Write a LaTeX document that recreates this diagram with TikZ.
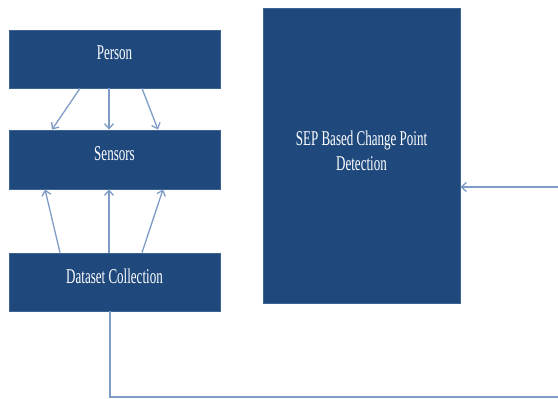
\documentclass[tikz,border=0pt]{standalone}
\usepackage{fontspec}
\setmainfont[FakeStretch=0.62]{Liberation Serif}
\usepackage{tikz}
\usetikzlibrary{arrows, arrows.meta}
\usetikzlibrary{positioning, calc}
\definecolor{boxblue}{HTML}{1F497D}
\definecolor{boxedge}{HTML}{3F6391}
\definecolor{linkblue}{HTML}{7E9CC6}

\begin{document}
\begin{tikzpicture}[x=1pt, y=1pt,
    block/.style={rectangle, draw=boxedge, fill=boxblue, line width=0.8pt,
      text=white, font=\fontsize{21}{25}\selectfont, align=center, inner sep=0pt},
    link/.style={draw=linkblue, line width=1.3pt, -{Straight Barb[length=5pt, width=9pt]}}]
      \useasboundingbox (0, 0) rectangle (558, -399);

      \node[block, minimum width=211pt, minimum height=58pt, text depth=12pt] (person) at (114.5, -59) {Person};
      \node[block, minimum width=211pt, minimum height=59pt, text depth=12pt] (sensors) at (114.5, -159.5) {Sensors};
      \node[block, minimum width=211pt, minimum height=58pt, text depth=12pt] (dataset) at (114.5, -282) {Dataset Collection};
      \node[block, minimum width=197pt, minimum height=295pt, text depth=10pt] (sep) at (361.5, -155.5) {SEP Based Change Point\\Detection};

      \draw[link] ([xshift=-34.5pt]person.south) -- ([xshift=-62.5pt]sensors.north);
      \draw[link] ([xshift=-5.5pt]person.south) -- ([xshift=-5.5pt]sensors.north);
      \draw[link] ([xshift=27.5pt]person.south) -- ([xshift=43.5pt]sensors.north);

      \draw[link] ([xshift=-54.5pt]dataset.north) -- ([xshift=-69.5pt]sensors.south);
      \draw[link] ([xshift=-5.5pt]dataset.north) -- ([xshift=-5.5pt]sensors.south);
      \draw[link] ([xshift=27.5pt]dataset.north) -- ([xshift=48.5pt]sensors.south);

      \coordinate (loopcorner) at (566, -397);
      \draw[link] ([xshift=-4.5pt]dataset.south) |- (loopcorner) |- ([yshift=-31.5pt]sep.east);

    \end{tikzpicture}
\end{document}
